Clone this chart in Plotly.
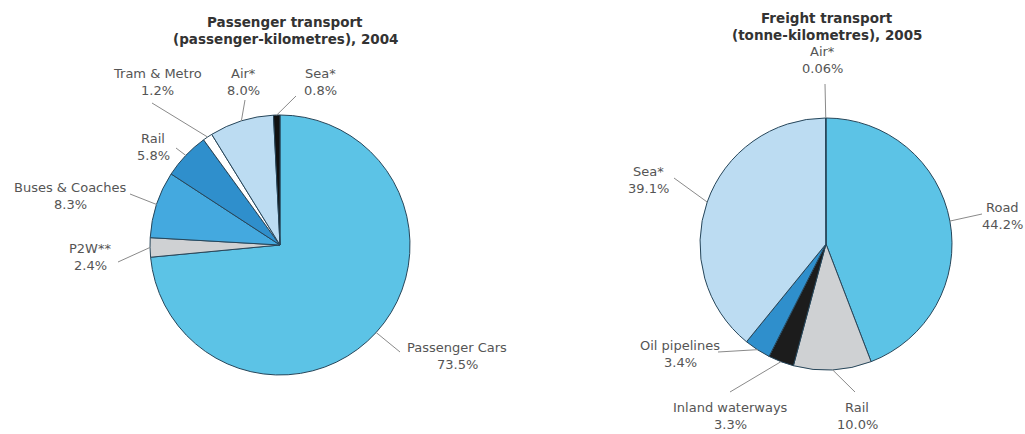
import math
import plotly.graph_objects as go

W, H = 1025, 434

# Passenger transport 2004
p_labels = ["Passenger Cars", "P2W**", "Buses & Coaches", "Rail", "Tram & Metro", "Air*", "Sea*"]
p_values = [73.5, 2.4, 8.3, 5.8, 1.2, 8.0, 0.8]
p_text = ["73.5%", "2.4%", "8.3%", "5.8%", "1.2%", "8.0%", "0.8%"]
p_colors = ["#5cc3e6", "#cfd1d3", "#44a9df", "#2f8fcc", "#ffffff", "#bcdcf2", "#111111"]
# label text centres (px) and leader-line tail points (px)
p_lab_pos = [(457, 356), (90, 257), (70, 196), (153, 147), (157, 82), (243, 82), (320, 82)]
p_tail = [(400, 352), (118, 262), (130, 194), (176, 148), (152, 103), (245, 100), (296, 96)]

# Freight transport 2005
f_labels = ["Road", "Rail", "Inland waterways", "Oil pipelines", "Sea*", "Air*"]
f_values = [44.2, 10.0, 3.3, 3.4, 39.1, 0.06]
f_text = ["44.2%", "10.0%", "3.3%", "3.4%", "39.1%", "0.06%"]
f_colors = ["#5cc3e6", "#cfd1d3", "#1c1c1c", "#2f8fcc", "#bcdcf2", "#bcdcf2"]
f_lab_pos = [(1002, 216), (857, 416), (730, 416), (680, 354), (648, 180), (822, 60)]
f_tail = [(982, 214), (855, 392), (730, 392), (718, 352), (674, 178), (825, 84)]

# pie geometry (px): centre and radius
P_C, P_R = (280, 245), 130
F_C, F_R = (826, 244), 126

LABEL_FONT = dict(family="DejaVu Sans, Liberation Sans, Arial", size=13, color="#555555")
TITLE_FONT = dict(family="DejaVu Sans, Liberation Sans, Arial", size=13.5, color="#333333")


def dom(c, r):
    return dict(x=[(c[0] - r) / W, (c[0] + r) / W], y=[1 - (c[1] + r) / H, 1 - (c[1] - r) / H])


fig = go.Figure()
for labels, values, colors, c, r in [(p_labels, p_values, p_colors, P_C, P_R),
                                      (f_labels, f_values, f_colors, F_C, F_R)]:
    fig.add_trace(go.Pie(labels=labels, values=values, sort=False, direction="clockwise",
                         rotation=0, textinfo="none", hoverinfo="label+percent",
                         marker=dict(colors=colors, line=dict(color="#27465a", width=1)),
                         domain=dom(c, r), showlegend=False))

annotations = []
shapes = []


def txt(s, x, y, font):
    annotations.append(dict(x=x / W, y=1 - y / H, xref="paper", yref="paper", text=s,
                            showarrow=False, xanchor="center", yanchor="middle",
                            font=font))


def add_labels(labels, values, texts, pos, tails, c, r):
    total = sum(values)
    cum = 0
    for lab, v, t, (lx, ly), (tx, ty) in zip(labels, values, texts, pos, tails):
        th = 2 * math.pi * (cum + v / 2) / total
        cum += v
        hx = c[0] + r * math.sin(th)
        hy = c[1] - r * math.cos(th)
        shapes.append(dict(type="line", xref="paper", yref="paper",
                           x0=hx / W, y0=1 - hy / H, x1=tx / W, y1=1 - ty / H,
                           line=dict(color="#8a8a8a", width=1)))
        txt(lab, lx, ly - 8.5, LABEL_FONT)
        txt(t, lx, ly + 8.5, LABEL_FONT)


add_labels(p_labels, p_values, p_text, p_lab_pos, p_tail, P_C, P_R)
add_labels(f_labels, f_values, f_text, f_lab_pos, f_tail, F_C, F_R)

txt("<b>Passenger transport</b>", 285, 22, TITLE_FONT)
txt("<b>(passenger-kilometres), 2004</b>", 285, 39, TITLE_FONT)
txt("<b>Freight transport</b>", 827, 18, TITLE_FONT)
txt("<b>(tonne-kilometres), 2005</b>", 827, 35, TITLE_FONT)

fig.update_layout(width=W, height=H, margin=dict(l=0, r=0, t=0, b=0),
                  paper_bgcolor="white", plot_bgcolor="white",
                  annotations=annotations, shapes=shapes)

fig.write_html("out.html")
